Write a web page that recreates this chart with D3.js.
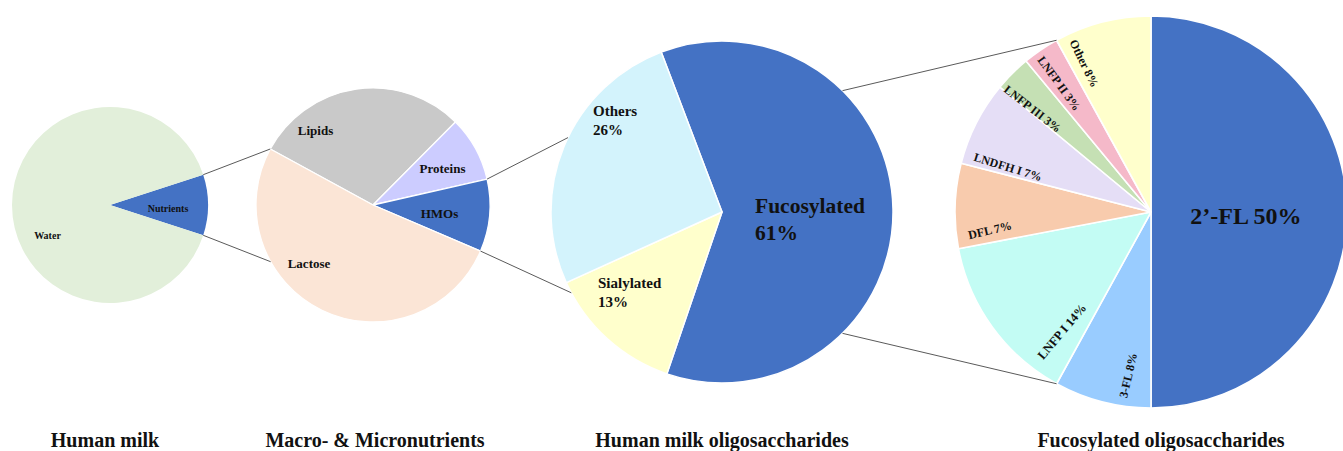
<!DOCTYPE html>
<html>
<head>
<meta charset="utf-8">
<script src="https://cdn.jsdelivr.net/npm/d3@7"></script>
<style>
  html, body { margin: 0; padding: 0; background: #fff; }
  svg { display: block; }
  text { font-family: "Liberation Serif", "Times New Roman", serif; font-weight: bold; fill: #111; }
</style>
</head>
<body>
<svg id="chart" width="1343" height="451"></svg>
<script>
// ---------------- data ----------------
const milkCats   = ["Nutrients", "Water"];
const milkVals   = [10, 90];

const macroCats  = ["Lipids", "Proteins", "HMOs", "Lactose"];
const macroVals  = [29.5, 9, 10, 51.5];

const hmoCats    = ["Fucosylated", "Sialylated", "Others"];
const hmoVals    = [61, 13, 26];
const hmoLabels  = [["Fucosylated", "61%"], ["Sialylated", "13%"], ["Others", "26%"]];

const fucCats    = ["2’-FL", "3-FL", "LNFP I", "DFL", "LNDFH I", "LNFP III", "LNFP II", "Other"];
const fucVals    = [50, 8, 14, 7, 7, 3, 3, 8];

const titles     = ["Human milk", "Macro- & Micronutrients", "Human milk oligosaccharides", "Fucosylated oligosaccharides"];

// ---------------- styles / layout ----------------
const rad = d => d * Math.PI / 180;
const milkColors  = ["#4472c4", "#e2efda"];
const macroColors = ["#c9c9c9", "#ccccff", "#4472c4", "#fbe5d6"];
const hmoColors   = ["#4472c4", "#ffffcc", "#d3f3fc"];
const fucColors   = ["#4472c4", "#99ccff", "#c3fcf4", "#f8cbad", "#e5def6", "#c5e0b4", "#f5b9c9", "#ffffcc"];

const pies = [
  { cx: 110, cy: 205, r: 98,  start: 72 },
  { cx: 373, cy: 205, r: 117, start: -61.4 },
  { cx: 722, cy: 212, r: 171, start: -20.8 },
  { cx: 1151, cy: 212, r: 196, start: 0 }
];

const svg = d3.select("#chart");

function drawPie(p, cats, vals, colors, strokeW) {
  const pie = d3.pie().sort(null).value(d => d)
    .startAngle(rad(p.start)).endAngle(rad(p.start) + 2 * Math.PI);
  const arcs = pie(vals);
  const arc = d3.arc().innerRadius(0).outerRadius(p.r);
  const g = svg.append("g").attr("transform", `translate(${p.cx},${p.cy})`);
  g.selectAll("path").data(arcs).join("path")
    .attr("d", arc)
    .attr("fill", (d, i) => colors[i])
    .attr("stroke", "#fff")
    .attr("stroke-width", strokeW)
    .attr("stroke-linejoin", "round");
  return { g, arcs };
}

// point on circle of a pie at angle (deg, clockwise from 12 o'clock)
function pt(p, a, r) {
  const rr = r === undefined ? p.r : r;
  return [p.cx + rr * Math.sin(rad(a)), p.cy - rr * Math.cos(rad(a))];
}

const deg = a => a * 180 / Math.PI;
const connG = svg.append("g");

const P1 = drawPie(pies[0], milkCats, milkVals, milkColors, 0);
const P2 = drawPie(pies[1], macroCats, macroVals, macroColors, 1.3);
const P3 = drawPie(pies[2], hmoCats, hmoVals, hmoColors, 1.5);
const P4 = drawPie(pies[3], fucCats, fucVals, fucColors, 1.6);

const nut = P1.arcs[0], hmo = P2.arcs[2];
const conns = [
  [pt(pies[0], deg(nut.startAngle)), pt(pies[1], 298.6)],
  [pt(pies[0], deg(nut.endAngle)),   pt(pies[1], 241)],
  [pt(pies[1], deg(hmo.startAngle)), pt(pies[2], 295.8)],
  [pt(pies[1], deg(hmo.endAngle)),   pt(pies[2], 241.8)],
  [pt(pies[2], 44.8),  pt(pies[3], deg(P4.arcs[7].startAngle))],
  [pt(pies[2], 135.2), pt(pies[3], deg(P4.arcs[1].endAngle))]
];
connG.selectAll("line").data(conns).join("line")
  .attr("x1", d => d[0][0]).attr("y1", d => d[0][1])
  .attr("x2", d => d[1][0]).attr("y2", d => d[1][1])
  .attr("stroke", "#5a5a5a").attr("stroke-width", 1);
connG.raise();

// ---------- labels ----------
const milkLab = [{ dx: 58, dy: 7 }, { dx: -62.5, dy: 34 }];
P1.g.selectAll("text").data(milkCats).join("text")
  .attr("x", (d, i) => milkLab[i].dx).attr("y", (d, i) => milkLab[i].dy)
  .attr("text-anchor", "middle").attr("font-size", 10).text(d => d);

const macroLab = [{ dx: -57.5, dy: -70 }, { dx: 69.5, dy: -32 }, { dx: 66.5, dy: 13 }, { dx: -64, dy: 63 }];
P2.g.selectAll("text").data(macroCats).join("text")
  .attr("x", (d, i) => macroLab[i].dx).attr("y", (d, i) => macroLab[i].dy)
  .attr("text-anchor", "middle").attr("font-size", 13).text(d => d);

const hmoLab = [{ dx: 33, dy: 1, fs: 21.5, lh: 27 }, { dx: -124, dy: 76, fs: 15, lh: 19 }, { dx: -129, dy: -96, fs: 15, lh: 19 }];
hmoLabels.forEach((lines, i) => {
  const L = hmoLab[i];
  const t = P3.g.append("text").attr("x", L.dx).attr("y", L.dy).attr("font-size", L.fs);
  lines.forEach((s, j) => t.append("tspan").attr("x", L.dx).attr("dy", j === 0 ? 0 : L.lh).text(s));
});

const fucLab = [
  { a: 92.4, r: 95,  rot: 0,   fs: 24 },
  { a: 188,  r: 165, rot: -77, fs: 12 },
  { a: 216.8, r: 149, rot: -50, fs: 12.5 },
  { a: 263.6, r: 162, rot: -13, fs: 12 },
  { a: 287.5, r: 150, rot: 17,  fs: 12 },
  { a: 311.1, r: 157, rot: 38,  fs: 12 },
  { a: 324.5, r: 158, rot: 54,  fs: 12 },
  { a: 335.8, r: 163, rot: 64,  fs: 12 }
];
P4.g.selectAll("text").data(fucCats).join("text")
  .attr("transform", (d, i) => {
    const L = fucLab[i];
    const x = L.r * Math.sin(rad(L.a)), y = -L.r * Math.cos(rad(L.a));
    return `translate(${x},${y}) rotate(${L.rot})`;
  })
  .attr("text-anchor", "middle").attr("dy", "0.35em")
  .attr("font-size", (d, i) => fucLab[i].fs)
  .text((d, i) => `${d} ${fucVals[i]}%`);

// ---------- titles ----------
const titleX = [105, 375, 722, 1161];
svg.append("g").selectAll("text").data(titles).join("text")
  .attr("x", (d, i) => titleX[i]).attr("y", 447)
  .attr("text-anchor", "middle").attr("font-size", 20).text(d => d);
</script>
</body>
</html>
